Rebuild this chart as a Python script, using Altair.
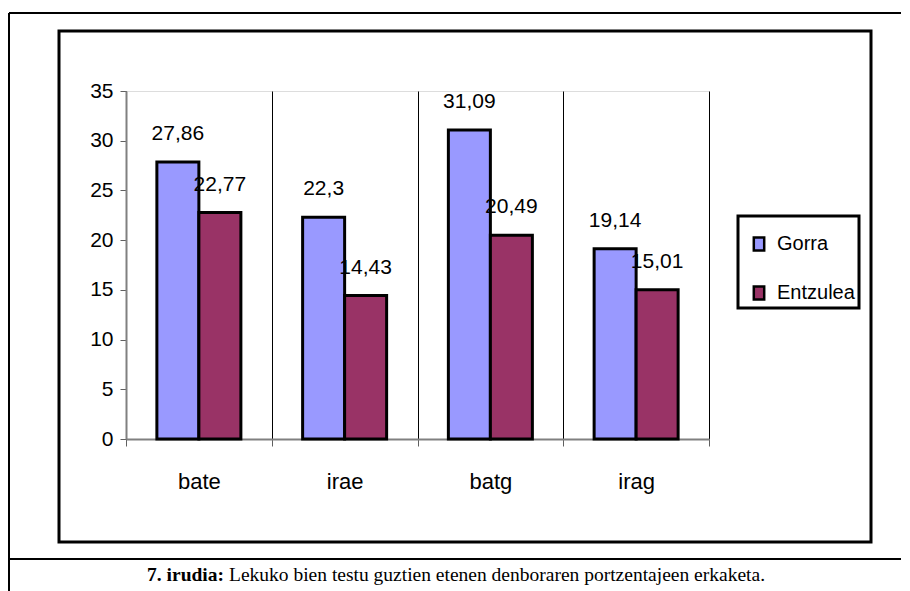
import altair as alt
import pandas as pd

categories = ["bate", "irae", "batg", "irag"]
series = ["Gorra", "Entzulea"]
gorra = [27.86, 22.3, 31.09, 19.14]
entzulea = [22.77, 14.43, 20.49, 15.01]
y_ticks = [0, 5, 10, 15, 20, 25, 30, 35]
colors = ["#9999FF", "#993366"]
caption_bold = "7. irudia:"
caption_text = "Lekuko bien testu guztien etenen denboraren portzentajeen erkaketa."

rows = []
for i, c in enumerate(categories):
    for s, vals in zip(series, [gorra, entzulea]):
        v = vals[i]
        rows.append({"cat": c, "series": s, "value": v,
                     "label": ("%g" % v).replace(".", ",")})
df = pd.DataFrame(rows)
one = pd.DataFrame({"d": [0]})

FONT = "Liberation Sans"

x_enc = alt.X("cat:N", sort=categories,
              scale=alt.Scale(paddingInner=0, paddingOuter=0),
              axis=alt.Axis(title=None, labelAngle=0, tickBand="extent",
                            grid=True, gridColor="black", gridWidth=1, gridOpacity=1,
                            domainColor="#808080", domainWidth=2,
                            tickColor="#606060", tickWidth=1, tickSize=7,
                            labelFont=FONT, labelFontSize=22, labelColor="black",
                            labelPadding=25))
xoff_enc = alt.XOffset("series:N", sort=series,
                       scale=alt.Scale(paddingInner=0, paddingOuter=0.735))
y_enc = alt.Y("value:Q", scale=alt.Scale(domain=[0, 35], nice=False),
              axis=alt.Axis(title=None, values=y_ticks, grid=False,
                            domainColor="#808080", domainWidth=2,
                            tickColor="#606060", tickWidth=1, tickSize=6,
                            labelFont=FONT, labelFontSize=21, labelColor="black",
                            labelPadding=7))

bars = alt.Chart(df).mark_bar(stroke="black", strokeWidth=3).encode(
    x=x_enc, xOffset=xoff_enc, y=y_enc,
    color=alt.Color("series:N", sort=series,
                    scale=alt.Scale(domain=series, range=colors),
                    legend=alt.Legend(title=None, orient="none", legendX=623, legendY=143,
                                      labelFont=FONT, labelFontSize=20, labelColor="black",
                                      symbolType="M-0.8,-1L0.8,-1L0.8,1L-0.8,1Z",
                                      symbolSize=169, symbolStrokeColor="black",
                                      symbolStrokeWidth=2.5, symbolOpacity=1,
                                      labelOffset=8, rowPadding=25, padding=0)),
)

texts = alt.Chart(df).mark_text(dy=-22, baseline="alphabetic", fontSize=21,
                                font=FONT, color="black").encode(
    x=x_enc, xOffset=xoff_enc, y=y_enc, text="label:N")

legend_box = alt.Chart(one).mark_rect(fill="white", fillOpacity=0, stroke="black",
                                      strokeWidth=3).encode(
    x=alt.value(612), x2=alt.value(733), y=alt.value(125), y2=alt.value(217))

inner_box = alt.Chart(one).mark_rect(fillOpacity=0, stroke="black", strokeWidth=3).encode(
    x=alt.value(-67), x2=alt.value(745), y=alt.value(-60), y2=alt.value(451))

top_line = alt.Chart(one).mark_rule(color="black", strokeWidth=2).encode(
    x=alt.value(-117), x2=alt.value(775), y=alt.value(-78))
left_line = alt.Chart(one).mark_rule(color="black", strokeWidth=2).encode(
    x=alt.value(-117), y=alt.value(-78), y2=alt.value(510))
sep_line = alt.Chart(one).mark_rule(color="black", strokeWidth=2).encode(
    x=alt.value(-117), x2=alt.value(775), y=alt.value(468))

cap1 = alt.Chart(one).mark_text(font="Liberation Serif", fontSize=19.5, fontWeight="bold",
                                align="right", baseline="alphabetic", color="black").encode(
    x=alt.value(98), y=alt.value(490), text=alt.value(caption_bold))
cap2 = alt.Chart(one).mark_text(font="Liberation Serif", fontSize=19.5,
                                align="left", baseline="alphabetic", color="black").encode(
    x=alt.value(103), y=alt.value(490), text=alt.value(caption_text))

chart = alt.layer(
    top_line, left_line, sep_line, inner_box, bars, texts, legend_box, cap1, cap2
).properties(
    width=583, height=348,
    padding={"left": 118, "top": 83, "right": 193, "bottom": 152},
    autosize=alt.AutoSizeParams(type="none"),
).configure_view(stroke="#808080", strokeWidth=2).configure(font=FONT)

chart.save("out.html", embed_options={"renderer": "svg", "actions": False})
